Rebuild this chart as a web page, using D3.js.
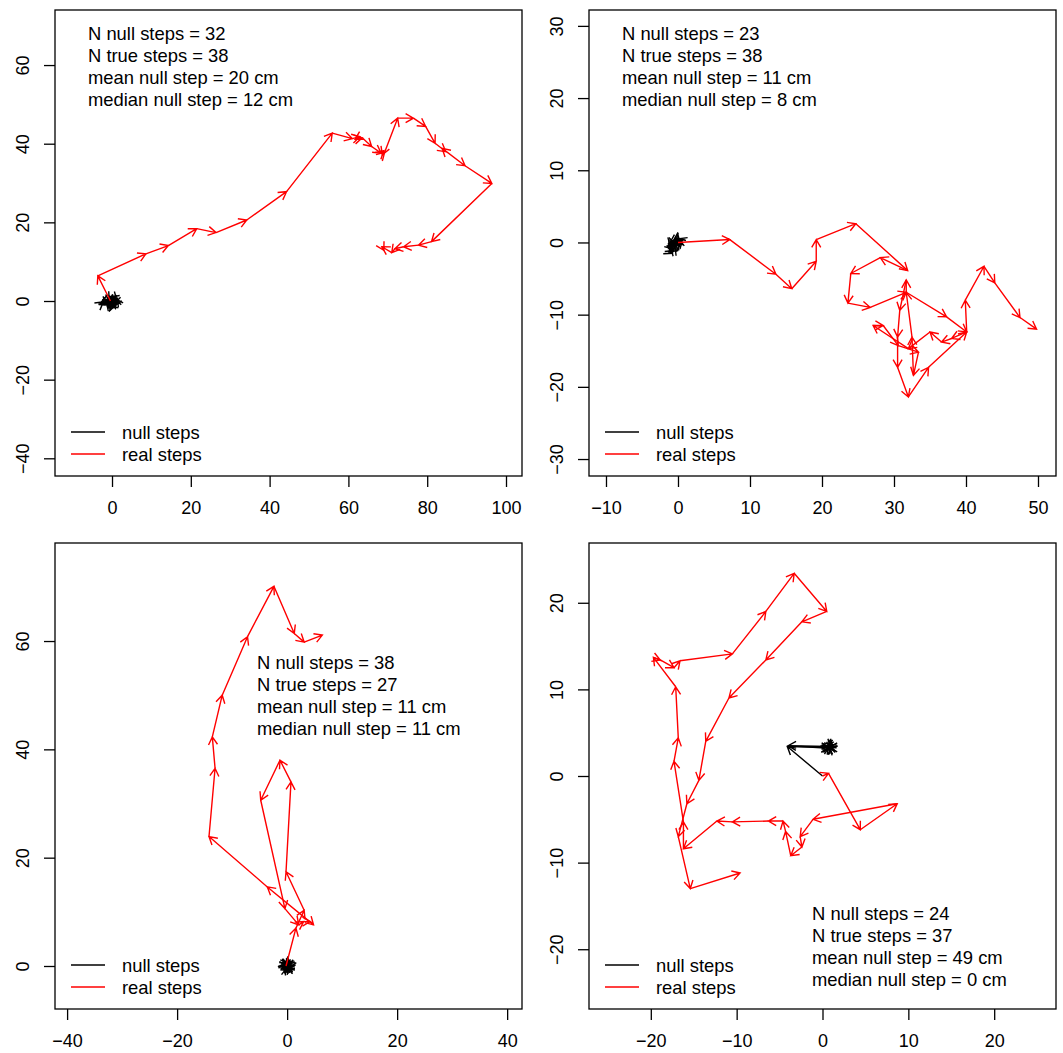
<!DOCTYPE html>
<html>
<head>
<meta charset="utf-8">
<script src="https://cdn.jsdelivr.net/npm/d3@7"></script>
<style>
  body { margin: 0; background: #fff; }
  svg { display: block; }
</style>
</head>
<body>
<svg id="chart" width="1063" height="1053"></svg>
<script>
// ---- data: step positions (cm) ----
const nullSteps1 = [[0,0],[-0.8,0.6],[0.5,0.9],[1.2,0.2],[0.4,-0.9],[-0.6,-1.2],[-1.4,-0.3],[-0.2,0.5],[0.9,-0.4],[1.4,0.7],[0.2,-1.5],[-1.0,0.3],[-2.5,-0.6],[-3.1,-0.9],[-2.2,-0.2],[-1.2,-0.8],[0.3,0.3],[1.0,1.0],[0.6,-0.7],[-0.4,-0.3],[-0.9,-1.4],[0.1,-0.6],[1.3,-0.2],[0.8,0.6],[-0.3,1.0],[-0.7,0.2],[0.2,-1.1],[1.1,-0.9],[0.5,0.4],[-0.5,-0.6],[-1.5,0.1],[0.0,-0.3],[0.7,0.1]];
const realSteps1 = [[-0.4,0],[-3.6,6.4],[8.6,12.0],[14.3,14.1],[21.5,18.4],[26.4,17.4],[34.2,20.6],[44.3,27.8],[55.9,42.7],[61.0,41.3],[62.9,41.8],[61.7,41.1],[63.5,41.5],[65.9,39.3],[68.3,37.6],[69.0,38.2],[68.6,37.2],[69.2,37.8],[72.5,46.5],[76.5,46.5],[79.6,44.4],[82.0,40.1],[84.7,38.0],[83.8,38.8],[89.6,34.4],[96.4,29.9],[81.1,15.1],[77.8,14.2],[74.0,13.8],[71.8,13.3],[71.0,12.3],[68.5,13.8],[69.0,12.9]];
const stats1 = ["N null steps = 32","N true steps = 38","mean null step = 20 cm","median null step = 12 cm"];

const nullSteps2 = [[0,0],[-0.5,-0.3],[-0.9,0.2],[-1.1,-0.5],[-0.7,-0.9],[-1.2,-1.3],[-0.8,-1.5],[-0.4,-0.6],[0.2,-0.1],[0.6,0.3],[0.1,0.5],[-0.3,0.1],[-0.9,-0.2],[-1.3,-0.8],[-0.6,-1.1],[-1.0,-0.7],[-0.2,-0.4],[0.4,0.1],[-0.1,0.6],[-0.6,0.3],[-1.1,0.0],[-0.4,-0.2],[0.0,0.2],[0.3,-0.1]];
const realSteps2 = [[0,0],[7.2,0.4],[13.6,-4.4],[15.8,-6.4],[19.2,-2.6],[19.2,0.4],[24.7,2.6],[31.9,-3.9],[28.1,-2.1],[24.0,-4.3],[23.6,-8.4],[26.7,-9.0],[31.7,-6.9],[31.7,-5.2],[30.8,-9.4],[30.5,-13.1],[30.5,-17.3],[32.0,-21.4],[34.8,-17.3],[40.1,-12.4],[38.0,-13.3],[36.6,-13.8],[35.0,-12.4],[32.0,-14.7],[27.1,-11.5],[28.5,-11.5],[30.6,-14.3],[33.4,-15.2],[32.7,-18.4],[32.5,-13.1],[31.7,-6.9],[37.3,-10.3],[40.1,-12.4],[39.9,-8.0],[42.5,-3.3],[44.0,-5.6],[47.5,-10.4],[49.8,-12.0]];
const stats2 = ["N null steps = 23","N true steps = 38","mean null step = 11 cm","median null step = 8 cm"];

const nullSteps3 = [[0,0],[-0.3,0.2],[0.2,0.4],[0.5,0.1],[0.3,-0.3],[-0.2,-0.5],[-0.5,-0.1],[-0.1,0.3],[0.4,-0.2],[0.6,0.3],[0.1,-0.6],[-0.4,0.2],[-0.6,-0.3],[-0.2,0.5],[0.3,0.6],[0.5,-0.4],[-0.1,-0.2],[-0.5,0.4],[0.2,-0.4],[0.0,0.6],[-0.3,-0.4],[0.4,0.3],[-0.6,0.1],[0.1,0.2],[0.5,-0.1],[-0.2,-0.6],[0.3,0.0],[-0.4,-0.2],[0.2,0.5],[-0.1,0.1],[0.6,-0.3],[-0.5,-0.5],[0.0,-0.3],[0.3,0.4],[-0.3,0.6],[0.4,-0.5],[-0.6,0.3],[0.1,-0.1],[-0.2,0.2]];
const realSteps3 = [[-0.2,0],[1.6,7.0],[3.1,10.3],[-0.2,17.4],[0.7,34.0],[-1.3,38.0],[-4.8,30.6],[-0.4,10.6],[2.1,7.6],[3.0,8.2],[4.2,8.2],[4.8,7.6],[-3.6,14.6],[-14.2,23.9],[-13.1,36.5],[-13.6,42.3],[-11.8,50.0],[-7.2,60.8],[-2.4,70.1],[1.3,61.4],[3.1,59.8],[6.4,61.1]];
const stats3 = ["N null steps = 38","N true steps = 27","mean null step = 11 cm","median null step = 11 cm"];

const nullSteps4 = [[0,0],[-4.1,3.4],[0.8,3.3],[1.0,3.5],[0.6,3.1],[0.9,3.6],[1.2,3.3],[0.7,3.4],[-4.0,3.5],[0.8,3.2],[1.1,3.4],[0.5,3.3],[0.9,3.0],[0.7,3.5],[1.0,3.2],[0.6,3.4],[1.2,3.6],[0.8,3.1],[0.9,3.4],[0.7,3.2],[1.0,3.5],[0.6,3.3],[0.8,3.4],[0.9,3.3],[0.8,3.3]];
const realSteps4 = [[0,0],[0.7,0.3],[4.4,-6.2],[8.7,-3.2],[-1.1,-5.0],[-2.6,-7.0],[-2.4,-8.2],[-3.7,-9.2],[-4.3,-6.4],[-4.6,-5.2],[-6.3,-5.2],[-10.5,-5.3],[-12.3,-5.2],[-16.2,-8.4],[-16.2,-5.3],[-17.3,1.7],[-16.8,4.4],[-17.1,10.3],[-19.7,13.7],[-18.9,13.4],[-17.3,12.5],[-16.6,13.3],[-10.5,14.1],[-6.6,19.0],[-3.3,23.4],[0.5,19.0],[-2.4,17.8],[-6.6,13.4],[-10.9,9.0],[-13.6,4.0],[-14.4,-0.5],[-15.8,-3.2],[-16.8,-7.0],[-15.4,-13.0],[-9.6,-11.2]];
const stats4 = ["N null steps = 24","N true steps = 37","mean null step = 49 cm","median null step = 0 cm"];

const xTicks1 = [0,20,40,60,80,100], yTicks1 = [-40,-20,0,20,40,60];
const xTicks2 = [-10,0,10,20,30,40,50], yTicks2 = [-30,-20,-10,0,10,20,30];
const xTicks3 = [-40,-20,0,20,40], yTicks3 = [0,20,40,60];
const xTicks4 = [-20,-10,0,10,20], yTicks4 = [-20,-10,0,10,20];
const legendLabels = ["null steps","real steps"];

// ---- layout ----
const panels = [
  {box:[55,10,522,476], xlim:[-14.47,104.06], ylim:[-44.5,74.0], xTicks:xTicks1, yTicks:yTicks1,
   nul:nullSteps1, real:realSteps1, stats:stats1, statsPos:[33,23]},
  {box:[589,10,1056,476], xlim:[-12.36,52.5], ylim:[-32.35,32.2], xTicks:xTicks2, yTicks:yTicks2,
   nul:nullSteps2, real:realSteps2, stats:stats2, statsPos:[33,23]},
  {box:[55,543,522,1009], xlim:[-42.2,42.7], ylim:[-7.94,78.1], xTicks:xTicks3, yTicks:yTicks3,
   nul:nullSteps3, real:realSteps3, stats:stats3, statsPos:[202,119]},
  {box:[589,543,1056,1009], xlim:[-27.2,27.2], ylim:[-26.9,26.9], xTicks:xTicks4, yTicks:yTicks4,
   nul:nullSteps4, real:realSteps4, stats:stats4, statsPos:[223,370]}
];

const FONT = "'Liberation Sans', Arial, Helvetica, sans-serif";
const TXT = 18.4;
const svg = d3.select("#chart");
const fmt = d => d < 0 ? "\u2212" + Math.abs(d) : String(d);

function drawSteps(g, pts, x, y, color) {
  const head = 9, ang = Math.PI / 6;
  for (let i = 1; i < pts.length; i++) {
    const x0 = x(pts[i-1][0]), y0 = y(pts[i-1][1]);
    const x1 = x(pts[i][0]), y1 = y(pts[i][1]);
    const dx = x1 - x0, dy = y1 - y0;
    if (Math.hypot(dx, dy) < 0.5) continue;
    const a = Math.atan2(dy, dx);
    const d = `M${x0},${y0}L${x1},${y1}` +
      `M${x1 - head*Math.cos(a-ang)},${y1 - head*Math.sin(a-ang)}L${x1},${y1}` +
      `L${x1 - head*Math.cos(a+ang)},${y1 - head*Math.sin(a+ang)}`;
    g.append("path").attr("d", d).attr("fill", "none")
      .attr("stroke", color).attr("stroke-width", 1.4);
  }
}

panels.forEach(p => {
  const [l, t, r, b] = p.box;
  const x = d3.scaleLinear().domain(p.xlim).range([l, r]);
  const y = d3.scaleLinear().domain(p.ylim).range([b, t]);
  const g = svg.append("g");

  // bottom axis
  const ax = g.append("g").attr("transform", `translate(0,${b})`)
    .call(d3.axisBottom(x).tickValues(p.xTicks).tickSize(11).tickFormat(fmt));
  ax.select(".domain").remove();
  ax.attr("font-family", FONT).attr("font-size", 18);
  ax.selectAll("line").attr("stroke-width", 1.3);
  ax.selectAll("text").attr("y", 38).attr("dy", null).attr("fill", "#000");

  // left axis, labels rotated like R
  const ay = g.append("g").attr("transform", `translate(${l},0)`)
    .call(d3.axisLeft(y).tickValues(p.yTicks).tickSize(11).tickFormat(fmt));
  ay.select(".domain").remove();
  ay.attr("font-family", FONT).attr("font-size", 18);
  ay.selectAll("line").attr("stroke-width", 1.3);
  ay.selectAll("text").attr("x", null).attr("dy", null)
    .attr("text-anchor", "middle").attr("fill", "#000")
    .attr("transform", "translate(-26,0) rotate(-90)");

  // frame
  g.append("rect").attr("x", l).attr("y", t).attr("width", r - l).attr("height", b - t)
    .attr("fill", "none").attr("stroke", "#000").attr("stroke-width", 1.3);

  const marks = g.append("g");
  drawSteps(marks, p.nul, x, y, "#000");
  drawSteps(marks, p.real, x, y, "#ff0000");

  // stats text
  g.append("g").selectAll("text").data(p.stats).join("text")
    .attr("x", l + p.statsPos[0])
    .attr("y", (d, i) => t + p.statsPos[1] + i * 22 + 6.5)
    .attr("font-family", FONT).attr("font-size", TXT).attr("fill", "#000")
    .text(d => d);

  // legend
  const lg = g.append("g");
  ["#000", "#ff0000"].forEach((c, i) => {
    const ly = b - 44 + i * 22;
    lg.append("line").attr("x1", l + 16).attr("x2", l + 50).attr("y1", ly).attr("y2", ly)
      .attr("stroke", c).attr("stroke-width", 1.3);
    lg.append("text").attr("x", l + 67).attr("y", ly + 6.5)
      .attr("font-family", FONT).attr("font-size", TXT).attr("fill", "#000")
      .text(legendLabels[i]);
  });
});
</script>
</body>
</html>
